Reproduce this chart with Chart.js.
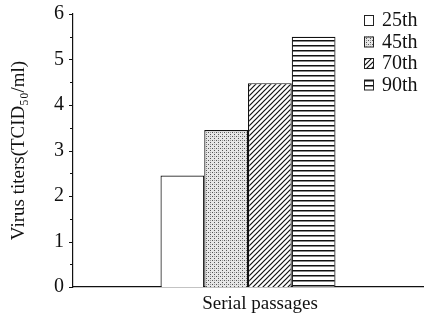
<!DOCTYPE html>
<html>
<head>
<meta charset="utf-8">
<script src="https://cdn.jsdelivr.net/npm/chart.js@4"></script>
<style>
  html, body { margin: 0; padding: 0; background: #fff; }
  #wrap { width: 425px; height: 321px; }
</style>
</head>
<body>
<div id="wrap"><canvas id="chart" width="425" height="321"></canvas></div>
<script>
const categories = [''];
const passages = ['25th', '45th', '70th', '90th'];
const titers = [2.45, 3.45, 4.48, 5.5];
const yTicks = [0, 1, 2, 3, 4, 5, 6];
const xTitle = 'Serial passages';

const serif = '"Liberation Serif", "DejaVu Serif", serif';

function makePattern(kind) {
    const c = document.createElement('canvas');
    const p = c.getContext('2d');
    if (kind === 'blank') {
        c.width = c.height = 4;
        p.fillStyle = '#fff';
        p.fillRect(0, 0, 4, 4);
    } else if (kind === 'dots') {
        c.width = c.height = 4;
        p.fillStyle = '#e6e6e6';
        p.fillRect(0, 0, 4, 4);
        p.fillStyle = '#555';
        p.fillRect(0, 0, 1, 1);
        p.fillRect(2, 2, 1, 1);
        p.fillStyle = '#999';
        p.fillRect(2, 0, 1, 1);
    } else if (kind === 'diag') {
        c.width = c.height = 5;
        p.fillStyle = '#fff';
        p.fillRect(0, 0, 5, 5);
        p.strokeStyle = '#111';
        p.lineWidth = 1.2;
        p.beginPath();
        p.moveTo(-1, 6); p.lineTo(6, -1);
        p.moveTo(-1, 1); p.lineTo(1, -1);
        p.moveTo(4, 6); p.lineTo(6, 4);
        p.stroke();
    } else {
        c.width = 4; c.height = 5;
        p.fillStyle = '#fff';
        p.fillRect(0, 0, 4, 5);
        p.fillStyle = '#111';
        p.fillRect(0, 0, 4, 1.5);
    }
    return p.createPattern(c, 'repeat');
}

const kinds = ['blank', 'dots', 'diag', 'horiz'];

const datasets = passages.map((name, i) => ({
    label: name,
    data: [titers[i]],
    backgroundColor: makePattern(kinds[i]),
    borderColor: '#111',
    borderWidth: 1.2,
    borderSkipped: 'bottom'
}));

// small ticks every 0.5 on the y axis, x title slightly right of centre
const axisExtras = {
    id: 'axisExtras',
    afterDraw(chart) {
        const y = chart.scales.y;
        const x0 = chart.chartArea.left;
        const g = chart.ctx;
        g.save();
        g.strokeStyle = '#111';
        g.lineWidth = 1;
        for (let v = 0; v <= 6; v += 0.5) {
            const py = Math.round(y.getPixelForValue(v)) + 0.5;
            g.beginPath();
            g.moveTo(x0, py);
            g.lineTo(x0 - (v % 1 === 0 ? 4 : 3), py);
            g.stroke();
        }
        g.font = '19px ' + serif;
        g.fillStyle = '#111';
        g.textAlign = 'center';
        g.textBaseline = 'middle';
        g.fillText(xTitle, 260, 304);
        g.restore();
    }
};

// legend drawn at the upper right inside the plot
const cornerLegend = {
    id: 'cornerLegend',
    afterDraw(chart) {
        const g = chart.ctx;
        g.save();
        g.font = '20px ' + serif;
        g.textBaseline = 'middle';
        chart.data.datasets.forEach((ds, i) => {
            const cy = 20 + i * 21.5;
            g.fillStyle = ds.backgroundColor;
            g.fillRect(364, cy - 5, 9, 10);
            g.strokeStyle = '#222';
            g.lineWidth = 1;
            g.strokeRect(364.5, cy - 4.5, 9, 10);
            g.fillStyle = '#111';
            g.fillText(ds.label, 382, cy + 1);
        });
        g.restore();
    }
};

new Chart(document.getElementById('chart'), {
    type: 'bar',
    data: { labels: categories, datasets: datasets },
    options: {
        responsive: false,
        animation: false,
        layout: { padding: { top: 0, right: 2, left: 0, bottom: 0 } },
        plugins: { legend: { display: false }, tooltip: { enabled: false } },
        datasets: { bar: { categoryPercentage: 0.5, barPercentage: 1 } },
        scales: {
            x: {
                grid: { display: false, drawTicks: false },
                border: { color: '#111', width: 1.2 },
                ticks: { display: false },
                afterFit: s => { s.height = 34; }
            },
            y: {
                min: 0,
                max: 6,
                afterBuildTicks: s => { s.ticks = yTicks.map(v => ({ value: v })); },
                afterFit: s => { s.width = 73; s.paddingTop = 14; },
                grid: { display: false, drawTicks: false },
                border: { color: '#111', width: 1.2 },
                ticks: {
                    color: '#111',
                    padding: 9,
                    font: { family: serif, size: 20, lineHeight: 1 }
                },
                title: {
                    display: true,
                    text: 'Virus titers(TCID\u2085\u2080/ml)',
                    color: '#111',
                    font: { family: serif, size: 19 },
                    padding: { top: 8, bottom: 6 }
                }
            }
        }
    },
    plugins: [axisExtras, cornerLegend]
});
</script>
</body>
</html>
